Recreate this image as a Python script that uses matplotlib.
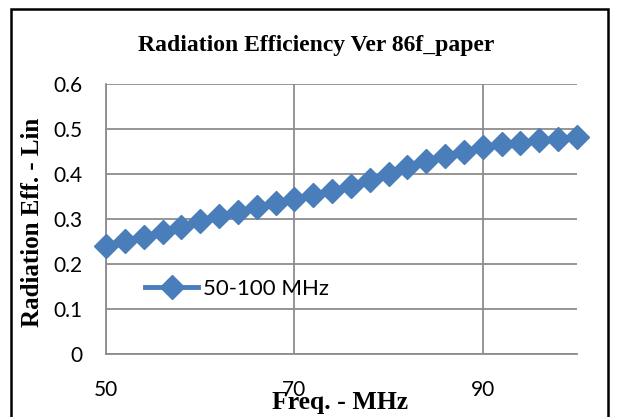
import matplotlib.pyplot as plt
from matplotlib.patches import Rectangle

# data
freq_mhz = [50, 52, 54, 56, 58, 60, 62, 64, 66, 68, 70, 72, 74,
            76, 78, 80, 82, 84, 86, 88, 90, 92, 94, 96, 98, 100]
rad_eff = [0.240, 0.251, 0.261, 0.272, 0.283, 0.295, 0.307, 0.316, 0.327,
           0.335, 0.344, 0.354, 0.362, 0.373, 0.387, 0.401, 0.416, 0.429,
           0.440, 0.450, 0.459, 0.466, 0.470, 0.476, 0.478, 0.483]
x_ticks = [50, 70, 90]
y_ticks = [0, 0.1, 0.2, 0.3, 0.4, 0.5, 0.6]

W, H = 617, 417
fig = plt.figure(figsize=(W / 100, H / 100), dpi=100)
ax = fig.add_axes([106 / W, (H - 354) / H, (577 - 106) / W, (354 - 84) / H])

blue = '#4A7EBB'
grid_c = '#8C8C8C'
tick_font = 'Lato'
serif = 'Liberation Serif'

ax.plot(freq_mhz, rad_eff, color=blue, lw=3.5, marker='D', ms=12.5,
        mec=blue, mfc=blue, label='50-100 MHz', clip_on=False, zorder=3)

ax.set_xlim(50, 100)
ax.set_ylim(0, 0.6)
ax.set_xticks(x_ticks)
ax.set_yticks(y_ticks)
ax.set_yticklabels(['0', '0.1', '0.2', '0.3', '0.4', '0.5', '0.6'])
ax.grid(True, color=grid_c, lw=1.3)
ax.set_axisbelow(True)
for side in ['top', 'right']:
    ax.spines[side].set_visible(False)
for side in ['left', 'bottom']:
    ax.spines[side].set_color(grid_c)
    ax.spines[side].set_linewidth(1.3)
ax.tick_params(length=0)
ax.tick_params(axis='x', pad=19)
ax.tick_params(axis='y', pad=17)
for lab in ax.get_xticklabels() + ax.get_yticklabels():
    lab.set_fontfamily(tick_font)
    lab.set_fontsize(15)

leg = ax.legend(loc='lower left', bbox_to_anchor=(0.04, 0.13), frameon=False,
                handlelength=2.4, handletextpad=0.2,
                prop={'family': tick_font, 'size': 16})

fig.text(316 / W, 1 - 45 / H, 'Radiation Efficiency Ver 86f_paper',
         ha='center', va='center', fontfamily=serif, fontweight='bold', fontsize=17)
fig.text(340 / W, 1 - 402 / H, 'Freq. - MHz', ha='center', va='center',
         fontfamily=serif, fontweight='bold', fontsize=18.5)
fig.text(33 / W, 1 - 222 / H, 'Radiation Eff. - Lin', ha='center', va='center',
         rotation=90, fontfamily=serif, fontweight='bold', fontsize=18)

# outer chart border
fig.patches.append(Rectangle((11 / W, -0.05), (608 - 11) / W, 1 - 9 / H + 0.05,
                             transform=fig.transFigure, fill=False,
                             edgecolor='black', lw=1.8))

fig.savefig('out.png', dpi=100)
